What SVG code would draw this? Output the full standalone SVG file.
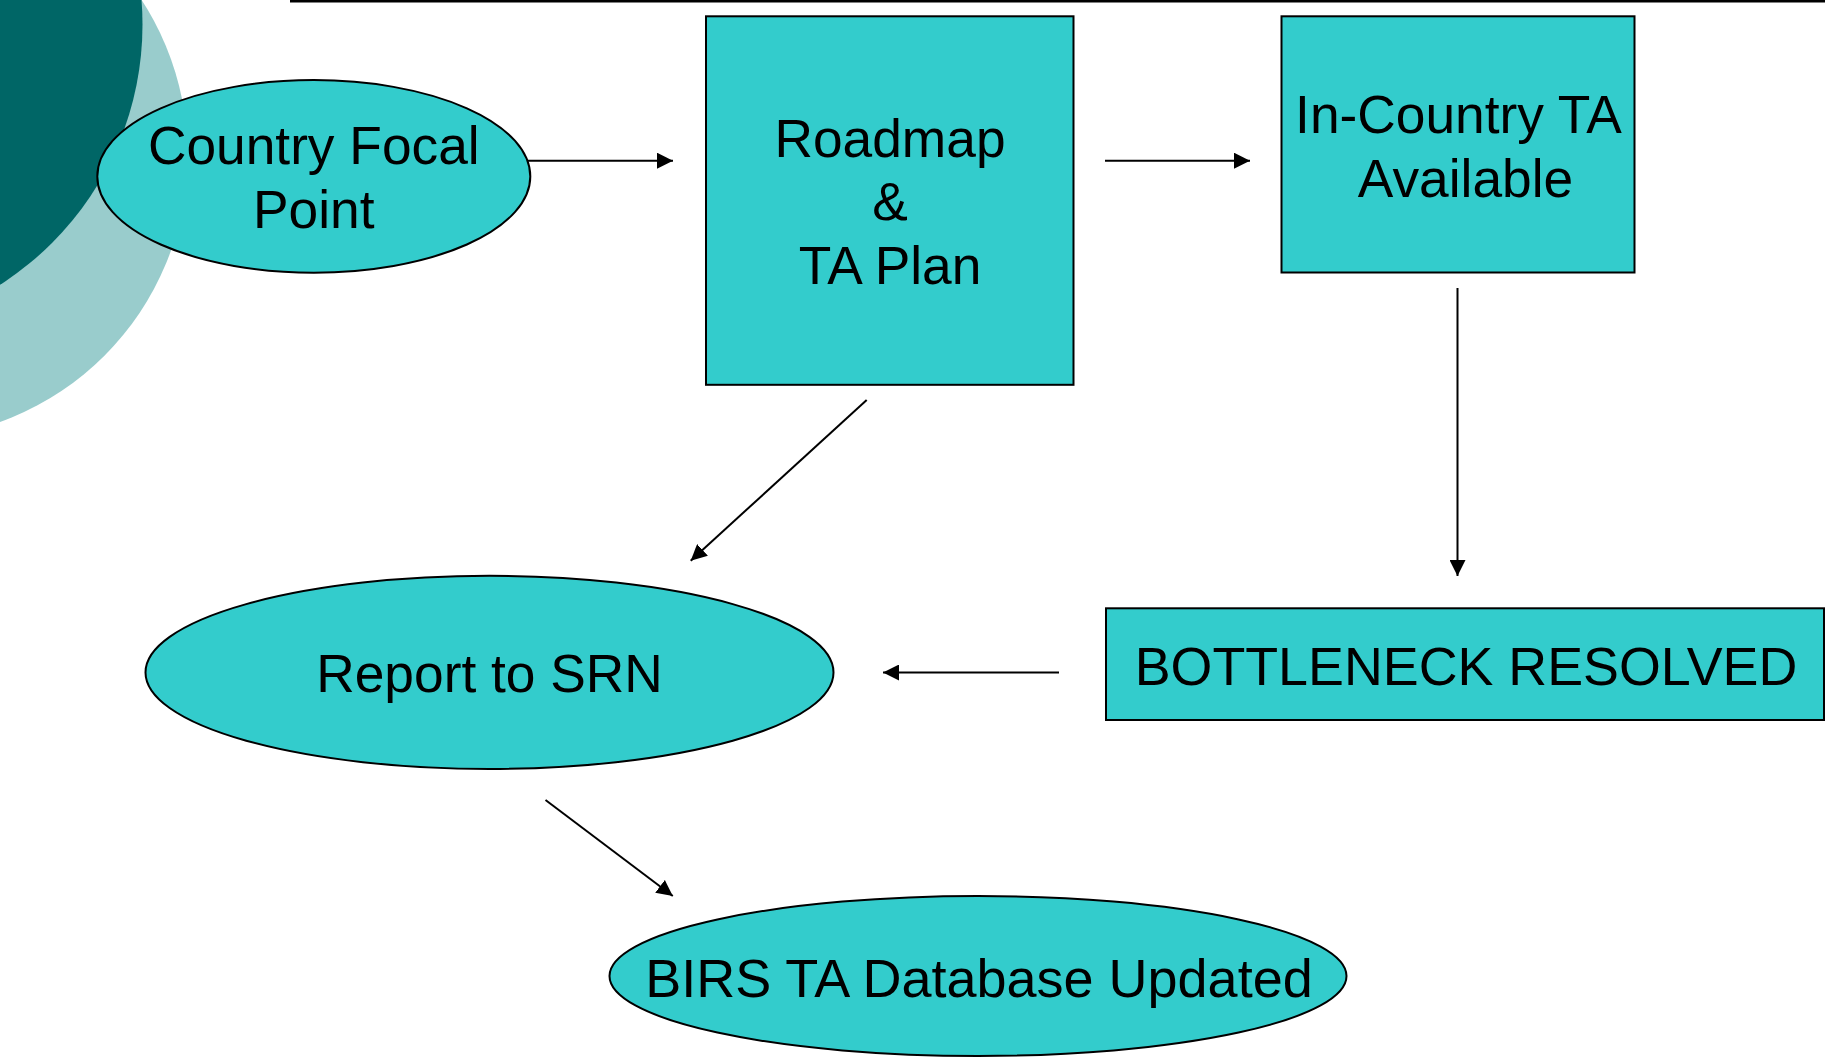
<svg xmlns="http://www.w3.org/2000/svg" width="1825" height="1057" viewBox="0 0 1825 1057">
<defs>
<style>
.node{fill:#33CCCC;stroke:#000;stroke-width:2}
.lbl{font-family:"Liberation Sans",Arial,sans-serif;font-size:53.3px;fill:#000;text-anchor:middle}
.conn{stroke:#000;stroke-width:2;fill:none;marker-end:url(#ah)}
</style>
<marker id="ah" markerUnits="userSpaceOnUse" markerWidth="16" markerHeight="16" refX="16" refY="8" orient="auto">
<path d="M0,0 L16,8 L0,16 z" fill="#000"/>
</marker>
</defs>
<rect width="1825" height="1057" fill="#fff"/>
<g id="decor">
<circle cx="-96.4" cy="154.9" r="284" fill="#99CCCC"/>
<circle cx="-166.5" cy="24.5" r="309" fill="#006666"/>
<line x1="290" y1="1.2" x2="1825" y2="1.2" stroke="#000" stroke-width="2.5"/>
</g>
<g id="connectors">
<line class="conn" x1="528" y1="160.7" x2="673" y2="160.7"/>
<line class="conn" x1="1105" y1="160.7" x2="1250" y2="160.7"/>
<line class="conn" x1="1457.5" y1="288" x2="1457.5" y2="576"/>
<line class="conn" x1="866.7" y1="400" x2="690.7" y2="560.7"/>
<line class="conn" x1="1059" y1="672.5" x2="883" y2="672.5"/>
<line class="conn" x1="545.5" y1="800" x2="672.8" y2="896"/>
</g>
<g id="country-focal-point">
<ellipse class="node" cx="313.8" cy="176.4" rx="216.5" ry="96.3"/>
<text class="lbl" x="313.8" y="164.3">Country Focal</text>
<text class="lbl" x="313.8" y="228.3">Point</text>
</g>
<g id="roadmap-ta-plan">
<rect class="node" x="706" y="16.3" width="367.5" height="368.5"/>
<text class="lbl" x="890" y="156.7">Roadmap</text>
<text class="lbl" x="890" y="220">&amp;</text>
<text class="lbl" x="890" y="284">TA Plan</text>
</g>
<g id="in-country-ta">
<rect class="node" x="1281.5" y="16.3" width="353" height="256.2"/>
<text class="lbl" x="1458.5" y="133.3">In-Country TA</text>
<text class="lbl" x="1465.5" y="196.7">Available</text>
</g>
<g id="bottleneck-resolved">
<rect class="node" x="1106" y="608.3" width="718" height="111.7"/>
<text class="lbl" x="1466" y="684.5" style="font-size:53.8px">BOTTLENECK RESOLVED</text>
</g>
<g id="report-to-srn">
<ellipse class="node" cx="489.5" cy="672.4" rx="344" ry="96.6"/>
<text class="lbl" x="489.5" y="692">Report to SRN</text>
</g>
<g id="birs-ta-database">
<ellipse class="node" cx="978" cy="976" rx="368.5" ry="80"/>
<text class="lbl" x="979" y="996.7" style="font-size:54px">BIRS TA Database Updated</text>
</g>
</svg>
